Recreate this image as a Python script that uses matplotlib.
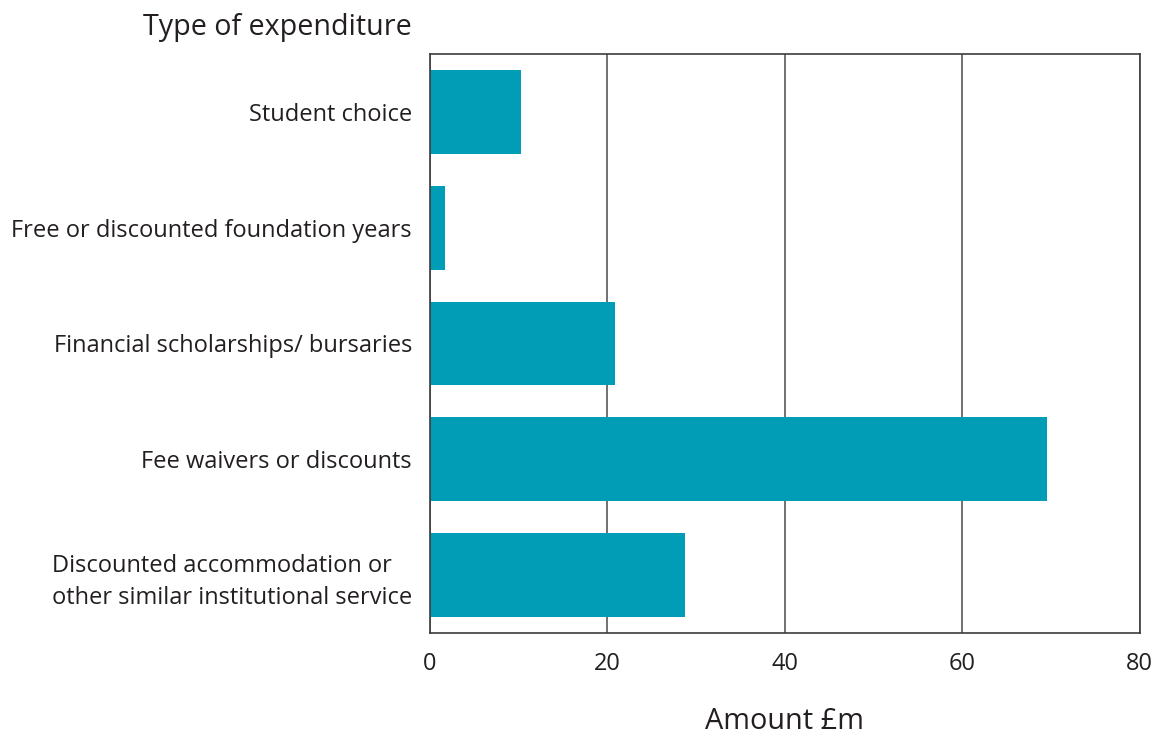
import matplotlib.pyplot as plt

# data
categories = [
    "Student choice",
    "Free or discounted foundation years",
    "Financial scholarships/ bursaries",
    "Fee waivers or discounts",
    "Discounted accommodation or\nother similar institutional service",
]
amounts = [10.3, 1.7, 20.9, 69.5, 28.7]
xticks = [0, 20, 40, 60, 80]

plt.rcParams['font.family'] = ['Open Sans', 'DejaVu Sans']

fig = plt.figure(figsize=(11.56, 7.36), dpi=100)
ax = fig.add_axes([0.372, 0.140, 0.614, 0.7866])

ypos = list(range(len(categories)))
ax.barh(ypos, amounts, height=0.724, color='#019db7', zorder=2)

ax.set_ylim(len(categories) - 0.5, -0.5)
ax.set_xlim(0, 80)
ax.set_xticks(xticks)
ax.set_yticks(ypos)
ax.set_yticklabels(categories, fontsize=17, color='#231f20')
ax.tick_params(axis='x', labelsize=17, length=0, pad=14, colors='#231f20')
ax.tick_params(axis='y', length=0, pad=13)
for lbl in ax.get_yticklabels():
    lbl.set_multialignment('left')
    lbl.set_linespacing(1.45)

ax.grid(axis='x', color='#4a4a4a', linewidth=1.1, zorder=1)
for s in ax.spines.values():
    s.set_color('#3c3c3c')
    s.set_linewidth(1.2)

fig.text(143 / 1156, 1 - 28 / 736, "Type of expenditure", fontsize=20.6,
         color='#231f20', ha='left', va='center')
ax.set_xlabel("Amount £m", fontsize=20.8, color='#231f20', labelpad=22)

fig.savefig('out.png', dpi=100)
